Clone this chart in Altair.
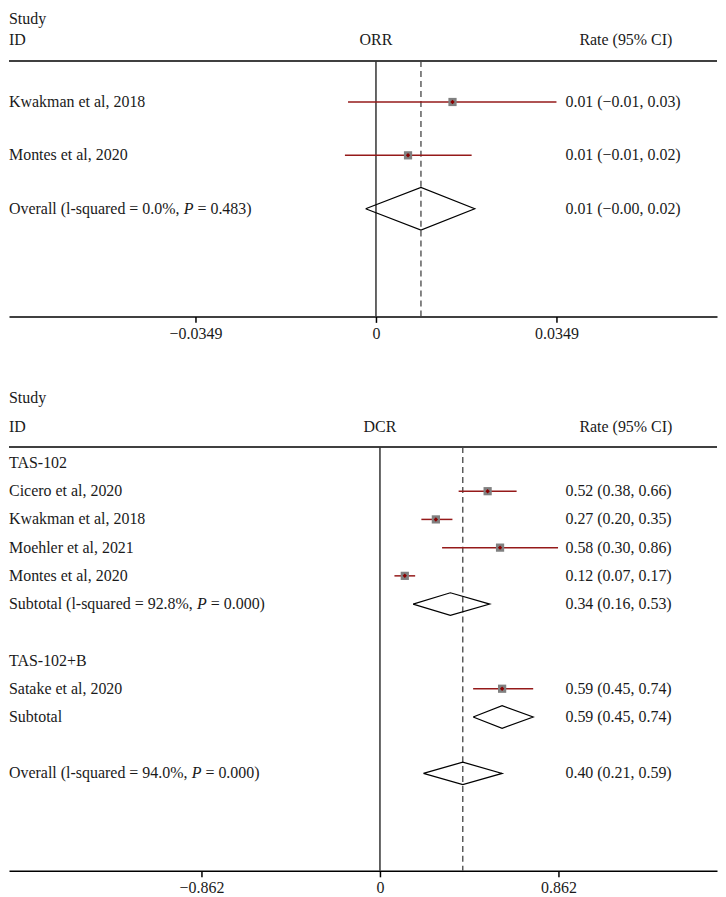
import altair as alt
import pandas as pd

FONT = "Liberation Serif"
FS = 16
TXT = "#1a1a1a"
CI_RED = "#951a1a"
DOT_RED = "#8b0000"
SQ_GRAY = "#808080"
W = 710

# ---------------- data: ORR panel ----------------
orr_study = ["Kwakman et al, 2018", "Montes et al, 2020"]
orr_est = [0.0148, 0.0062]
orr_lo = [-0.0054, -0.0060]
orr_hi = [0.0349, 0.0185]
orr_text = ["0.01 (\u22120.01, 0.03)", "0.01 (\u22120.01, 0.02)"]
orr_overall = [0.0087, -0.0020, 0.0191]
orr_overall_text = "0.01 (\u22120.00, 0.02)"
orr_overall_label = ["Overall (l-squared = 0.0%, ", "P", "= 0.483)"]
orr_ticks = [-0.0349, 0, 0.0349]

# ---------------- data: DCR panel ----------------
dcr_groups = ["TAS-102", "TAS-102+B"]
dcr_group_of = ["TAS-102", "TAS-102", "TAS-102", "TAS-102", "TAS-102+B"]
dcr_study = ["Cicero et al, 2020", "Kwakman et al, 2018", "Moehler et al, 2021",
             "Montes et al, 2020", "Satake et al, 2020"]
dcr_est = [0.52, 0.27, 0.58, 0.12, 0.59]
dcr_lo = [0.38, 0.20, 0.30, 0.07, 0.45]
dcr_hi = [0.66, 0.35, 0.86, 0.17, 0.74]
dcr_sub_est = [0.34, 0.59]
dcr_sub_lo = [0.16, 0.45]
dcr_sub_hi = [0.53, 0.74]
dcr_sub_label = [["Subtotal (l-squared = 92.8%, ", "P", "= 0.000)"], ["Subtotal"]]
dcr_overall = [0.40, 0.21, 0.59]
dcr_overall_label = ["Overall (l-squared = 94.0%, ", "P", "= 0.000)"]
dcr_ticks = [-0.862, 0, 0.862]

# Times/Liberation Serif advance widths (per 1000 em) for placing the italic P
TW = {'O': 722, 'v': 500, 'e': 444, 'r': 333, 'a': 444, 'l': 278, ' ': 250, '(': 333,
      ')': 333, '-': 333, 's': 389, 'q': 500, 'u': 500, 'd': 500, '=': 564, '.': 250,
      '%': 833, ',': 250, 'S': 556, 'b': 500, 't': 278, 'o': 500}


def tw(s):
    return sum(TW.get(c, 500) for c in s) * FS / 1000.0


def fmt(v):
    return f"{v:.2f}".replace("-", "\u2212")


def rate(e, l, h):
    return f"{fmt(e)} ({fmt(l)}, {fmt(h)})"


dummy = pd.DataFrame({"a": [0]})


def build_panel(studies, pooled, overall_x, ticks, zero_px, tick_px, height,
                first_px, row_px, study_y, id_y, line_y, effect, sq_size):
    k = tick_px / ticks[-1]
    xsc = alt.Scale(domain=[-zero_px / k, (W - zero_px) / k], nice=False, zero=False)
    ysc = alt.Scale(domain=[-first_px / row_px, (height - first_px) / row_px],
                    reverse=True, nice=False, zero=False)
    ax = alt.Axis(values=ticks, format=".3~r", title=None, grid=False,
                  domainColor="#000000", domainWidth=1.5, tickColor="#000000",
                  tickWidth=1.5, tickSize=6, labelFont=FONT, labelFontSize=FS,
                  labelColor=TXT, labelPadding=3, labelFlush=False)
    yenc = alt.Y("r:Q", scale=ysc, axis=None)

    sdf = pd.DataFrame(studies)
    layers = []
    layers.append(alt.Chart(dummy).mark_rule(color="#000000", strokeWidth=1.5).encode(
        x=alt.value(0), x2=alt.value(W), y=alt.value(line_y)))
    layers.append(alt.Chart(dummy).mark_rule(color="#333333", strokeWidth=1.5).encode(
        x=alt.XDatum(0, scale=xsc, axis=ax), y=alt.value(line_y), y2=alt.value(height)))
    layers.append(alt.Chart(dummy).mark_rule(color="#444444", strokeWidth=1.3,
                                             strokeDash=[6, 4]).encode(
        x=alt.XDatum(overall_x, scale=xsc, axis=ax), y=alt.value(line_y), y2=alt.value(height)))
    study_df = sdf[sdf["kind"] == "study"]
    layers.append(alt.Chart(study_df).mark_rule(color=CI_RED, strokeWidth=1.5).encode(
        x=alt.X("lo:Q", scale=xsc, axis=ax), x2="hi:Q", y=yenc))
    layers.append(alt.Chart(study_df).mark_square(color=SQ_GRAY, size=sq_size, opacity=1).encode(
        x=alt.X("est:Q", scale=xsc, axis=ax), y=yenc))
    layers.append(alt.Chart(study_df).mark_point(shape="diamond", filled=True, size=20,
                                                 color=DOT_RED, opacity=1).encode(
        x=alt.X("est:Q", scale=xsc, axis=ax), y=yenc))
    # pooled diamonds
    drows = []
    for i, p in enumerate(pooled):
        pts = [(p["lo"], p["r"]), (p["est"], p["r"] - 0.4), (p["hi"], p["r"]),
               (p["est"], p["r"] + 0.4), (p["lo"], p["r"])]
        for o, (xv, yv) in enumerate(pts):
            drows.append({"id": i, "o": o, "x": xv, "r": yv})
    layers.append(alt.Chart(pd.DataFrame(drows)).mark_line(color="#000000", strokeWidth=1.2).encode(
        x=alt.X("x:Q", scale=xsc, axis=ax), y=yenc, order="o:Q", detail="id:N"))
    # left labels
    tstyle = dict(baseline="middle", font=FONT, fontSize=FS, color=TXT)
    layers.append(alt.Chart(sdf).mark_text(align="left", **tstyle).encode(
        x=alt.value(0), y=yenc, text="label:N"))
    # italic P parts
    for _, row in sdf.iterrows():
        if row["p2"]:
            x1 = tw(row["label"])
            one = pd.DataFrame({"r": [row["r"]], "t": ["P"]})
            layers.append(alt.Chart(one).mark_text(align="left", fontStyle="italic", **tstyle).encode(
                x=alt.value(x1), y=yenc, text="t:N"))
            two = pd.DataFrame({"r": [row["r"]], "t": [row["p2"]]})
            layers.append(alt.Chart(two).mark_text(align="left", **tstyle).encode(
                x=alt.value(x1 + 611 * FS / 1000.0 + 250 * FS / 1000.0), y=yenc, text="t:N"))
    # rate column
    layers.append(alt.Chart(sdf[sdf["rate"] != ""]).mark_text(align="left", **tstyle).encode(
        x=alt.value(558), y=yenc, text="rate:N"))
    # headers
    layers.append(alt.Chart(dummy).mark_text(align="left", text="Study", **tstyle).encode(
        x=alt.value(0), y=alt.value(study_y)))
    layers.append(alt.Chart(dummy).mark_text(align="left", text="ID", **tstyle).encode(
        x=alt.value(0), y=alt.value(id_y)))
    layers.append(alt.Chart(dummy).mark_text(align="center", text=effect, **tstyle).encode(
        x=alt.XDatum(0, scale=xsc, axis=ax), y=alt.value(id_y)))
    layers.append(alt.Chart(dummy).mark_text(align="left", text="Rate (95% CI)", **tstyle).encode(
        x=alt.value(572), y=alt.value(id_y)))
    return alt.layer(*layers).properties(width=W, height=height)


# ---- ORR rows ----
orr_rows = []
r = 1
for s, e, l, h, t in zip(orr_study, orr_est, orr_lo, orr_hi, orr_text):
    orr_rows.append(dict(kind="study", label=s, p2="", r=r, est=e, lo=l, hi=h, rate=t))
    r += 1
orr_rows.append(dict(kind="pooled", label=orr_overall_label[0], p2=orr_overall_label[2], r=r,
                     est=orr_overall[0], lo=orr_overall[1], hi=orr_overall[2], rate=orr_overall_text))
orr_pooled = [x for x in orr_rows if x["kind"] == "pooled"]

# ---- DCR rows ----
dcr_rows = []
r = 0
for gi, g in enumerate(dcr_groups):
    dcr_rows.append(dict(kind="group", label=g, p2="", r=r, est=0.0, lo=0.0, hi=0.0, rate=""))
    r += 1
    for s, gg, e, l, h in zip(dcr_study, dcr_group_of, dcr_est, dcr_lo, dcr_hi):
        if gg == g:
            dcr_rows.append(dict(kind="study", label=s, p2="", r=r, est=e, lo=l, hi=h, rate=rate(e, l, h)))
            r += 1
    lab = dcr_sub_label[gi]
    dcr_rows.append(dict(kind="pooled", label=lab[0], p2=lab[2] if len(lab) > 1 else "", r=r,
                         est=dcr_sub_est[gi], lo=dcr_sub_lo[gi], hi=dcr_sub_hi[gi],
                         rate=rate(dcr_sub_est[gi], dcr_sub_lo[gi], dcr_sub_hi[gi])))
    r += 2
dcr_rows.append(dict(kind="pooled", label=dcr_overall_label[0], p2=dcr_overall_label[2], r=r,
                     est=dcr_overall[0], lo=dcr_overall[1], hi=dcr_overall[2],
                     rate=rate(*dcr_overall)))
dcr_pooled = [x for x in dcr_rows if x["kind"] == "pooled"]

top = build_panel(orr_rows, orr_pooled, orr_overall[0], orr_ticks, zero_px=368, tick_px=181,
                  height=308, first_px=39.5, row_px=53.5, study_y=10, id_y=31, line_y=52,
                  effect="ORR", sq_size=68)
bottom = build_panel(dcr_rows, dcr_pooled, dcr_overall[0], dcr_ticks, zero_px=372, tick_px=179,
                     height=492, first_px=83, row_px=28.3, study_y=18, id_y=47, line_y=67,
                     effect="DCR", sq_size=68)

chart = alt.vconcat(top, bottom, spacing=64, bounds="flush").properties(
    padding=0).configure_view(strokeWidth=0)

chart.save("out.html", embed_options={"renderer": "svg", "actions": False})
